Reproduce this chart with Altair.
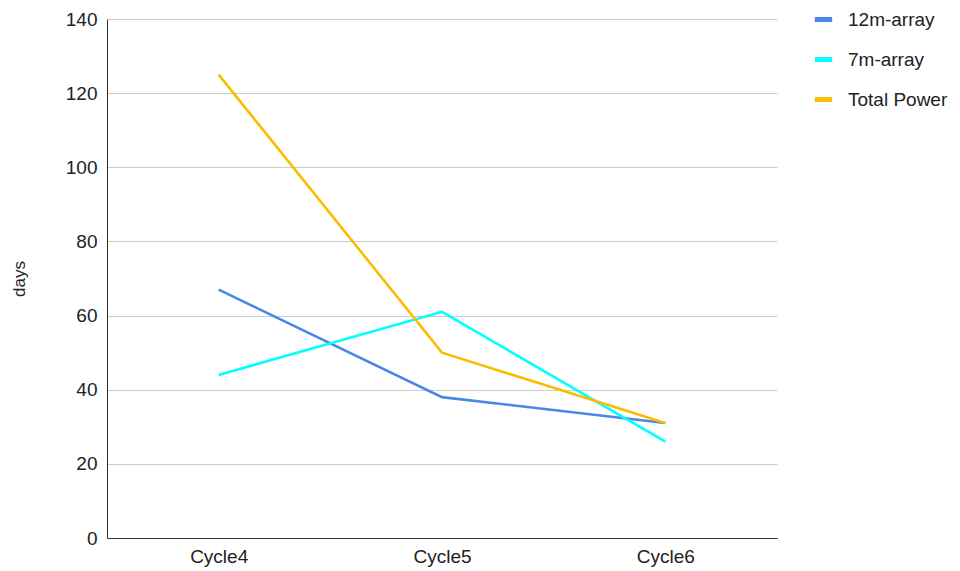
import altair as alt
import pandas as pd

cycles = ["Cycle4", "Cycle5", "Cycle6"]
series_names = ["12m-array", "7m-array", "Total Power"]
v12m = [67, 38, 31]
v7m = [44, 61, 26]
vtp = [125, 50, 31]
colors = ["#4A86E8", "#00FFFF", "#FBBC04"]

rows = []
for name, vals in zip(series_names, [v12m, v7m, vtp]):
    for c, v in zip(cycles, vals):
        rows.append({"cycle": c, "series": name, "days": v})
df = pd.DataFrame(rows)

font = "Liberation Sans"

chart = alt.Chart(df).mark_line(strokeWidth=2.6).encode(
    x=alt.X("cycle:N", sort=cycles, title=None,
            scale=alt.Scale(type="point", padding=0.5),
            axis=alt.Axis(labelAngle=0, ticks=False, grid=False, domainColor="#333333",
                          labelFontSize=19, labelColor="#222222", labelFont=font, labelPadding=9)),
    y=alt.Y("days:Q", title="days", scale=alt.Scale(domain=[0, 140], nice=False),
            axis=alt.Axis(values=[0, 20, 40, 60, 80, 100, 120, 140], ticks=False,
                          gridColor="#cccccc", domainColor="#333333",
                          labelFontSize=19, labelColor="#222222", labelFont=font, labelPadding=10,
                          titleFontSize=17, titleFont=font, titleFontWeight="normal",
                          titleColor="#222222", titlePadding=37)),
    color=alt.Color("series:N", sort=series_names,
                    scale=alt.Scale(domain=series_names, range=colors),
                    legend=alt.Legend(title=None, orient="none", legendX=705, legendY=-11,
                                      symbolType="stroke", symbolStrokeWidth=5, symbolSize=300,
                                      labelFontSize=19, labelFont=font, labelColor="#222222",
                                      rowPadding=18, labelOffset=13, labelLimit=300)),
).properties(
    width=670, height=519,
    autosize=alt.AutoSizeParams(type="none"),
    padding={"left": 99, "top": 11, "right": 175, "bottom": 32},
).configure_view(stroke=None)

chart.save("out.html", embed_options={"renderer": "svg", "actions": False})
